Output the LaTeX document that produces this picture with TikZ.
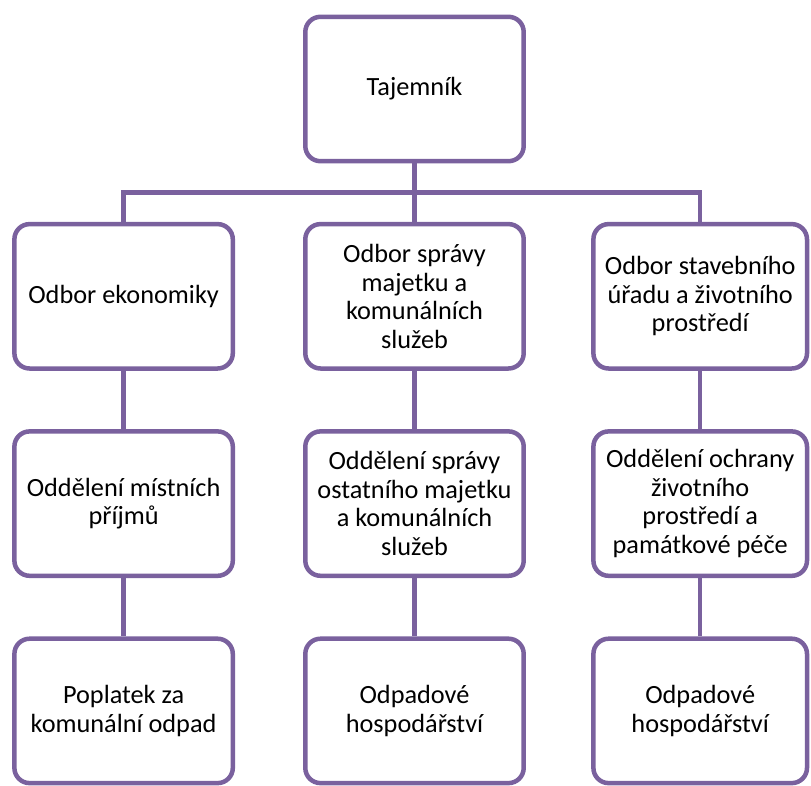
\documentclass[tikz,border=0pt]{standalone}
\usepackage{fontspec}
\setmainfont{Carlito}
\usetikzlibrary{positioning,calc}
\definecolor{plum}{RGB}{122,97,158}
\definecolor{ink}{RGB}{0,0,0}
\tikzset{
  unit/.style={draw=plum, line width=3.2pt, rounded corners=0.38cm, fill=white,
               align=center, text=ink, minimum width=5.46cm, minimum height=3.61cm,
               inner sep=2pt, font=\fontsize{18.7}{20.3}\selectfont},
  narrow/.style={minimum width=5.34cm},
  link/.style={draw=plum, line width=3.2pt, line join=miter},
}

\begin{document}
\begin{tikzpicture}[node distance=1.46cm and 1.7cm]
  \useasboundingbox (-10.3625,2.225) rectangle (9.9125,-17.4);

  \node[unit] (taj) {Tajemník};

  % odbory
  \node[unit, below=of taj] (osm) {Odbor správy\\majetku a\\komunálních\\služeb};
  \node[unit, left=of osm] (oek) {Odbor ekonomiky};
  \node[unit, narrow, right=1.63cm of osm] (osz) {Odbor stavebního\\úřadu a životního\\prostředí};

  % oddeleni
  \node[unit, below=of oek] (omp) {Oddělení místních\\příjmů};
  \node[unit, below=of osm] (oso) {Oddělení správy\\ostatního majetku\\a komunálních\\služeb};
  \node[unit, narrow, below=of osz] (ooz) {Oddělení ochrany\\životního\\prostředí a\\památkové péče};

  % agendy
  \node[unit, below=of omp] (pko) {Poplatek za\\komunální odpad};
  \node[unit, below=of oso] (ohm) {Odpadové\\hospodářství};
  \node[unit, narrow, below=of ooz] (ohz) {Odpadové\\hospodářství};

  \coordinate (bus) at ($(taj.south)!0.5!(osm.north)$);
  \draw[link] (taj.south) -- (osm.north);
  \draw[link] (oek.north) |- (bus) -| (osz.north);

  \foreach \a/\b in {oek/omp, omp/pko, osm/oso, oso/ohm, osz/ooz, ooz/ohz}
    \draw[link] (\a.south) -- (\b.north);
\end{tikzpicture}
\end{document}
